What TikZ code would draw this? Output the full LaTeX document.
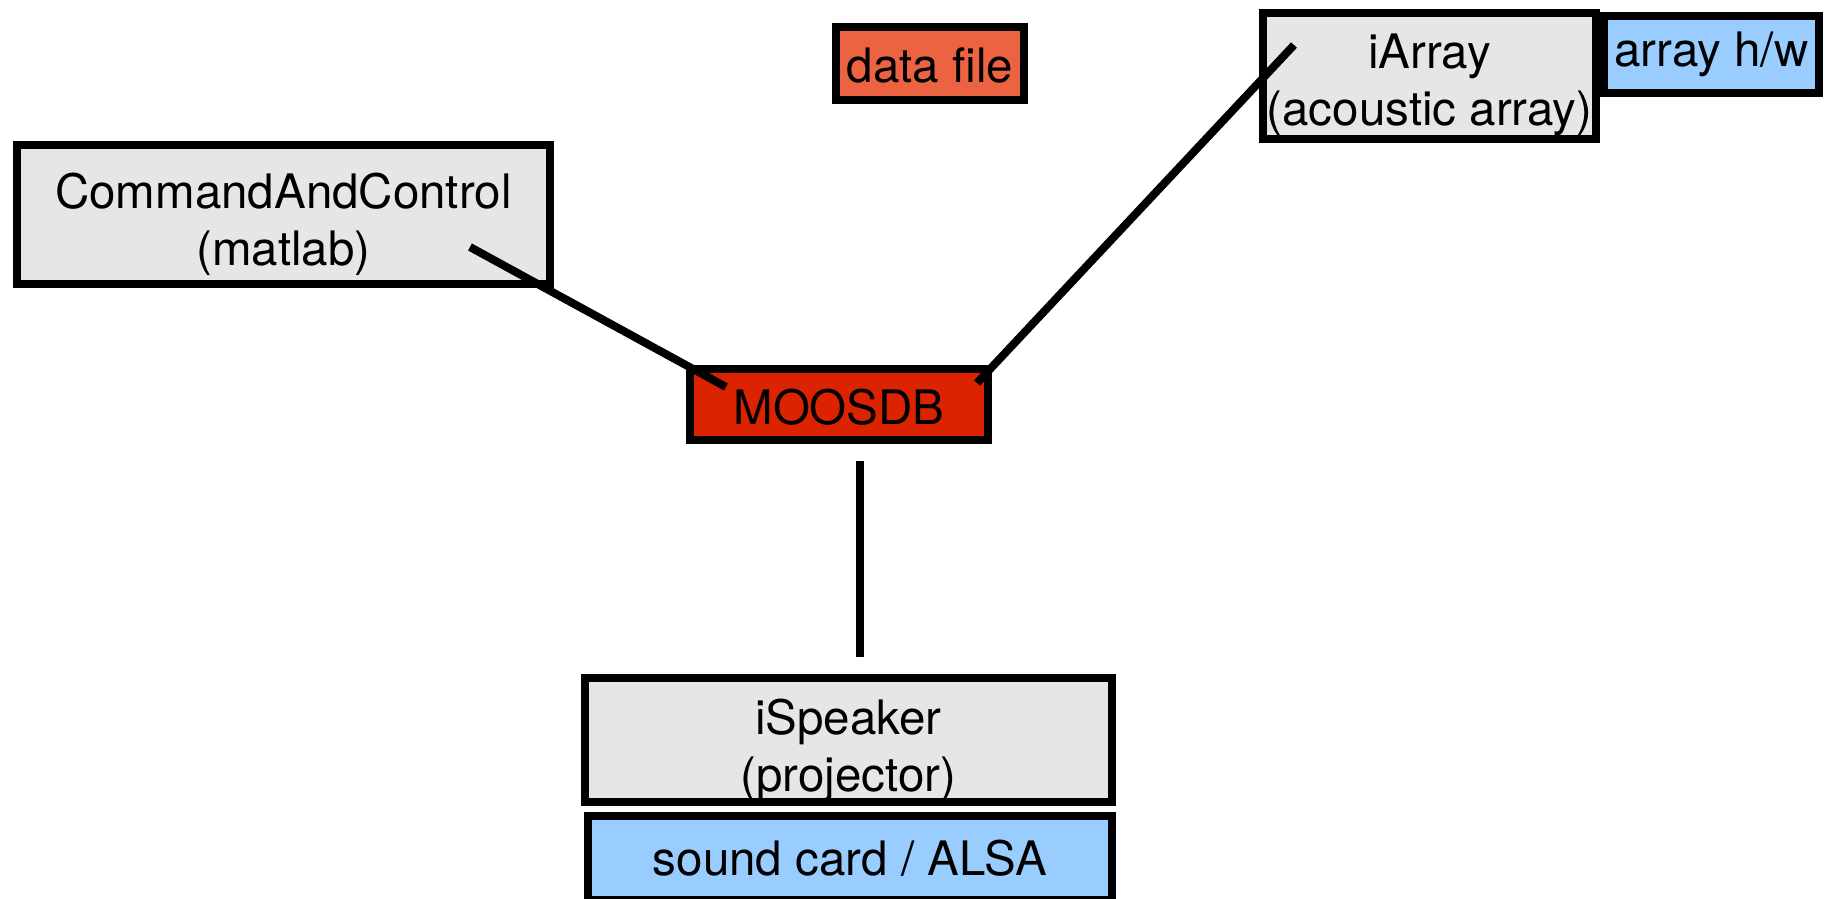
\documentclass[tikz,border=0pt]{standalone}
\usepackage{fontspec}
\setmainfont{TeX Gyre Heros}
\definecolor{boxgray}{HTML}{E6E6E6}
\definecolor{filered}{HTML}{EC6341}
\definecolor{dbred}{HTML}{DC2300}
\definecolor{hwblue}{HTML}{99CCFF}
\begin{document}
\begin{tikzpicture}[x=1pt,y=-1pt,
  box/.style={draw=black,line width=8pt,rectangle,inner sep=0pt},
  lab/.style={inner sep=0pt,align=center,font=\fontsize{47.5}{57}\selectfont,text=black},
  conn/.style={draw=black,line width=8pt}]
\useasboundingbox (0,0) rectangle (1829,898);
\node[box,fill=filered,minimum width=188pt,minimum height=73pt] (datafile) at (930,63.5) {};
\node[lab] (datafiletext) at ([yshift=-2pt]datafile.center) {data file};
\node[box,fill=boxgray,minimum width=333pt,minimum height=126pt] (iarray) at (1429.5,76) {};
\node[lab] (iarraytext) at ([yshift=-8.5pt]iarray.center) {iArray\\(acoustic array)};
\node[box,fill=hwblue,minimum width=215pt,minimum height=77pt] (arrayhw) at (1711.5,54.5) {};
\node[lab] (arrayhwtext) at (arrayhw.center) {array h/w};
\node[box,fill=boxgray,minimum width=533pt,minimum height=139pt] (cc) at (283.5,214.5) {};
\node[lab] (cctext) at ([yshift=-10pt]cc.center) {CommandAndControl\\(matlab)};
\node[box,fill=dbred,minimum width=298pt,minimum height=71pt] (moosdb) at (839,404.5) {};
\node[lab] (moosdbtext) at ([yshift=-3pt]moosdb.center) {MOOSDB};
\node[box,fill=boxgray,minimum width=527pt,minimum height=124pt] (ispeaker) at (848.5,740) {};
\node[lab] (ispeakertext) at ([yshift=-10pt]ispeaker.center) {iSpeaker\\(projector)};
\node[box,fill=hwblue,minimum width=524pt,minimum height=84pt] (sound) at (850,858) {};
\node[lab] (soundtext) at (sound.center) {sound card / ALSA};
\coordinate (ccend) at (470,247);
\coordinate (dbl) at (726,387);
\coordinate (iaend) at (1294,45);
\coordinate (dbr) at (977,383);
\coordinate (dbb) at (860,461);
\coordinate (spt) at (860,657);
\draw[conn] (ccend) -- (dbl);
\draw[conn] (iaend) -- (dbr);
\draw[conn] (dbb) -- (spt);
\end{tikzpicture}
\end{document}
